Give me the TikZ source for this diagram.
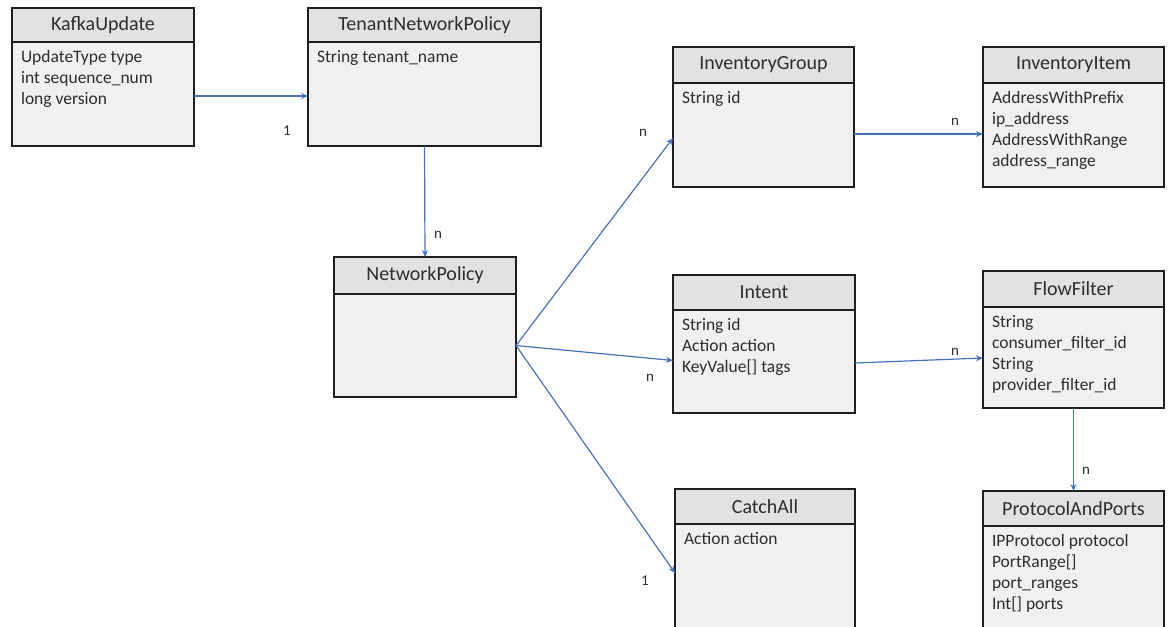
\documentclass[tikz,border=0pt]{standalone}
\usepackage{fontspec}
\setmainfont{Carlito}
\usetikzlibrary{arrows.meta}
\definecolor{linkblue}{RGB}{74,114,188}
\definecolor{hdrgray}{RGB}{226,226,226}
\definecolor{bdygray}{RGB}{240,240,240}
\definecolor{edgegray}{RGB}{30,30,30}
\definecolor{txtgray}{RGB}{45,45,45}
\tikzset{
  hdr/.style={draw=edgegray, fill=hdrgray, line width=1.3pt, inner sep=0pt, outer sep=0pt,
    font=\fontsize{20}{23}\selectfont, text=txtgray, anchor=north west},
  bdy/.style={draw=edgegray, fill=bdygray, line width=1.3pt, inner sep=0pt, outer sep=0pt, anchor=north west},
  attr/.style={inner sep=0pt, outer sep=0pt, align=left, anchor=north west,
    font=\fontsize{17.5}{21}\selectfont, text=txtgray},
  lbl/.style={inner sep=0pt, font=\fontsize{15}{18}\selectfont, text=txtgray},
  link/.style={draw=linkblue, line width=1.2pt, -{Stealth[length=7pt,width=6pt]}}
}
% #1 name, #2 x1, #3 y1, #4 x2, #5 header bottom y, #6 y2, #7 title, #8 attributes
\newcommand{\umlclass}[8]{%
  \node[bdy, minimum width={(#4-#2)*1pt}, minimum height={(#6-#5)*1pt}] (#1) at (#2,#5) {};
  \node[hdr, minimum width={(#4-#2)*1pt}, minimum height={(#5-#3)*1pt}] (#1-h) at (#2,#3) {#7};
  \node[attr] (#1-t) at ([xshift=9pt,yshift=-8pt]#1.north west) {#8};
}
\begin{document}
\begin{tikzpicture}[x=1pt,y=-1pt]
\path[use as bounding box] (0,0) rectangle (1169,626);
\clip (0,0) rectangle (1169,626);
\fill[white] (0,0) rectangle (1169,626);

\umlclass{ku}{12}{8}{194}{42}{146}{KafkaUpdate}{UpdateType type\\int sequence\_num\\long version}
\umlclass{tnp}{308}{8}{541}{42}{146}{TenantNetworkPolicy}{String tenant\_name}
\umlclass{np}{334}{257}{516}{294}{397}{NetworkPolicy}{}
\umlclass{ig}{673}{47}{854}{83}{187}{InventoryGroup}{String id}
\umlclass{ii}{983}{47}{1164}{83}{187}{InventoryItem}{AddressWithPrefix\\ip\_address\\AddressWithRange\\address\_range}
\umlclass{in}{673}{275}{855}{310}{413}{Intent}{String id\\Action action\\KeyValue[] tags}
\umlclass{ff}{983}{271}{1164}{307}{408}{FlowFilter}{String\\consumer\_filter\_id\\String\\provider\_filter\_id}
\umlclass{ca}{675}{489}{855}{524}{660}{CatchAll}{Action action}
\umlclass{pp}{983}{491}{1164}{526}{660}{ProtocolAndPorts}{IPProtocol protocol\\PortRange[]\\port\_ranges\\Int[] ports}

\draw[link] ([yshift=-2pt]ku.east) -- ([yshift=-2pt]tnp.west);
\draw[link] (tnp.south) -- (np-h.north);
\draw[link] (np.east) -- ([yshift=-3pt]ig.west);
\draw[link] (np.east) -- ([yshift=1pt]in.west);
\draw[link] (np.east) -- ([yshift=19pt]ca.west);
\draw[link] ([yshift=1pt]ig.east) -- ([yshift=1pt]ii.west);
\draw[link] ([yshift=-1.5pt]in.east) -- ([yshift=-0.5pt]ff.west);
\draw[link] (ff.south) -- (pp-h.north);

\node[lbl] (l1) at (287,131) {1};
\node[lbl] (l2) at (438,235) {n};
\node[lbl] (l3) at (643,133) {n};
\node[lbl] (l4) at (955,122) {n};
\node[lbl] (l5) at (650,378) {n};
\node[lbl] (l6) at (955,352) {n};
\node[lbl] (l7) at (1086,471) {n};
\node[lbl] (l8) at (645,581) {1};
\end{tikzpicture}
\end{document}
